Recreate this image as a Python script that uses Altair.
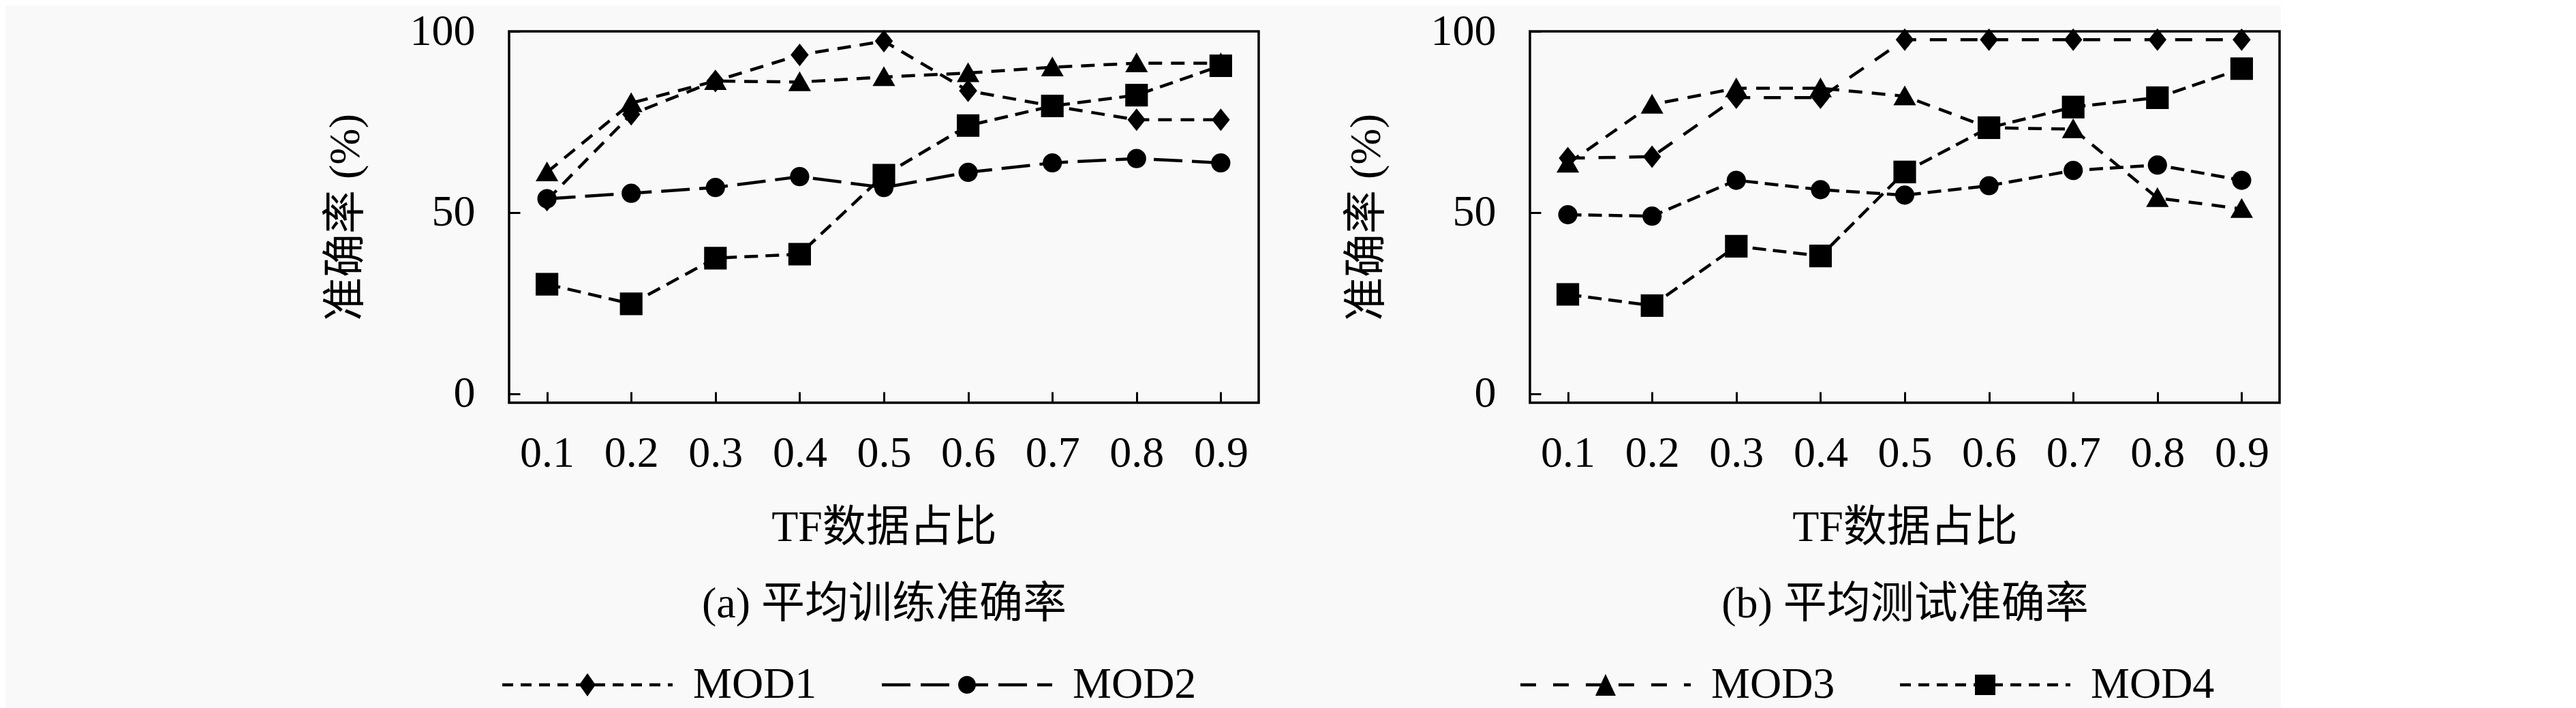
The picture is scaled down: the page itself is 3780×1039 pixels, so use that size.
import altair as alt
import pandas as pd

# ---------------- data ----------------
x_labels = ["0.1", "0.2", "0.3", "0.4", "0.5", "0.6", "0.7", "0.8", "0.9"]
models = ["MOD1", "MOD2", "MOD3", "MOD4"]

train_mod1 = [53.4, 77.1, 86.3, 93.5, 97.3, 83.6, 79.4, 75.6, 75.6]
train_mod2 = [53.8, 55.3, 56.9, 59.9, 56.9, 61.1, 63.7, 64.9, 63.7]
train_mod3 = [61.1, 80.2, 86.3, 86.0, 87.4, 88.5, 90.1, 91.2, 91.2]
train_mod4 = [30.2, 24.8, 37.4, 38.5, 60.3, 74.0, 79.4, 82.4, 90.5]

test_mod1 = [65.0, 65.4, 81.7, 81.7, 97.7, 97.7, 97.7, 97.7, 97.7]
test_mod2 = [49.4, 49.0, 58.9, 56.3, 54.8, 57.4, 61.6, 63.1, 58.9]
test_mod3 = [63.5, 79.8, 84.3, 84.3, 82.1, 73.4, 73.0, 54.0, 51.0]
test_mod4 = [27.4, 24.3, 40.7, 38.0, 61.2, 73.4, 79.1, 81.7, 89.7]

y_ticks = [0, 50, 100]
y_title = "准确率 (%)"
x_title = "TF数据占比"
caption_a = "(a) 平均训练准确率"
caption_b = "(b) 平均测试准确率"


def long_table(series):
    rows = []
    for m, vals in zip(models, series):
        for r, v in zip(x_labels, vals):
            rows.append({"ratio": r, "model": m, "acc": v})
    return pd.DataFrame(rows)


df_train = long_table([train_mod1, train_mod2, train_mod3, train_mod4])
df_test = long_table([test_mod1, test_mod2, test_mod3, test_mod4])

# ---------------- styles ----------------
FONT = "Liberation Serif, Noto Sans CJK SC"
FS = 64
BG = "#f9f9f9"

marker_paths = [
    "M0,-1L0.8,0L0,1L-0.8,0Z",                                   # diamond
    "M0.85,0A0.85,0.85 0 1,1 -0.85,0A0.85,0.85 0 1,1 0.85,0Z",   # circle
    "M0,-0.95L1,0.8L-1,0.8Z",                                    # triangle
    "M-1,-1H1V1H-1Z",                                            # square
]

SYM_W = 250.0
UNIT = SYM_W / 2.0


def dashes_path(dash, gap, thick=4.5):
    # dashes drawn as thin filled rectangles (legend symbol style)
    t = thick / 2.0 / UNIT
    parts = []
    s = -1.0
    while s < 1.0:
        e = min(s + dash / UNIT, 1.0)
        parts.append(f"M{s:.4f},{-t:.4f}H{e:.4f}V{t:.4f}H{s:.4f}Z")
        s = e + gap / UNIT
    return "".join(parts)


def legend_symbol(marker, dash, gap):
    u = 1.0 / UNIT
    if marker == "diamond":
        h, w = 17 * u, 12 * u
        mk = f"M0,{-h:.4f}L{w:.4f},0L0,{h:.4f}L{-w:.4f},0Z"
    elif marker == "circle":
        r = 13 * u
        mk = f"M{r:.4f},0A{r:.4f},{r:.4f} 0 1,1 {-r:.4f},0A{r:.4f},{r:.4f} 0 1,1 {r:.4f},0Z"
    elif marker == "triangle":
        w, h = 15 * u, 16 * u
        mk = f"M0,{-h:.4f}L{w:.4f},{h:.4f}L{-w:.4f},{h:.4f}Z"
    else:
        a = 15 * u
        mk = f"M{-a:.4f},{-a:.4f}H{a:.4f}V{a:.4f}H{-a:.4f}Z"
    return dashes_path(dash, gap) + mk


legend_a_paths = [legend_symbol("diamond", 16, 11), legend_symbol("circle", 42, 15)]
legend_b_paths = [legend_symbol("triangle", 23, 25), legend_symbol("square", 16, 11)]

dash_a = [[20, 13], [42, 14], [20, 13], [20, 11]]
dash_b = [[25, 20], [20, 10], [20, 14], [20, 10]]

W, H = 1100, 545


def panel(df, caption, dashes, leg_models, leg_paths, leg_x):
    x_axis = alt.Axis(
        title=[x_title, caption], titleLineHeight=112, titleFont=FONT, titleFontSize=FS,
        titleFontWeight="normal", titleColor="black", titlePadding=45,
        labelAngle=0, labelFont=FONT, labelFontSize=FS, labelColor="black", labelPadding=58,
        domain=False, grid=False, ticks=True, tickColor="black", tickWidth=3,
        tickSize=alt.ExprRef(expr="-16"),
    )
    y_axis = alt.Axis(
        title=y_title, titleFont=FONT, titleFontSize=FS, titleFontWeight="normal",
        titleColor="black", titlePadding=62,
        values=y_ticks, labelFont=FONT, labelFontSize=FS, labelColor="black", labelPadding=66,
        domain=False, grid=False, ticks=True, tickColor="black", tickWidth=3,
        tickSize=alt.ExprRef(expr="-16"),
    )
    base = alt.Chart(df).encode(
        x=alt.X("ratio:O", sort=x_labels,
                scale=alt.Scale(type="point", domain=x_labels, padding=0.45), axis=x_axis),
        y=alt.Y("acc:Q", scale=alt.Scale(domain=[-2.5, 100], nice=False, zero=False), axis=y_axis),
    )
    lines = base.mark_line(strokeWidth=4.5, color="black").encode(
        strokeDash=alt.StrokeDash("model:N", scale=alt.Scale(domain=models, range=dashes), legend=None),
        detail="model:N",
    )
    points = base.mark_point(filled=True, opacity=1, size=1100, color="black").encode(
        shape=alt.Shape("model:N", scale=alt.Scale(domain=models, range=marker_paths), legend=None),
    )
    leg = base.mark_point(filled=True, color="black").encode(
        shape=alt.Shape(
            "model:N",
            scale=alt.Scale(domain=leg_models, range=leg_paths),
            legend=alt.Legend(
                title=None, orient="none", legendX=leg_x, legendY=924,
                direction="horizontal", columns=2, padding=0,
                symbolSize=SYM_W * SYM_W, clipHeight=70,
                symbolStrokeWidth=0, symbolFillColor="black",
                symbolOpacity=1,
                labelFont=FONT, labelFontSize=FS, labelColor="black", labelOffset=30,
                labelLimit=0, columnPadding=95,
            ),
        )
    ).transform_filter("false")
    return alt.layer(lines, points, leg).resolve_scale(shape="independent").properties(width=W, height=H)


left = panel(df_train, caption_a, dash_a, ["MOD1", "MOD2"], legend_a_paths, -10)
right = panel(df_test, caption_b, dash_b, ["MOD3", "MOD4"], legend_b_paths, -14)

chart = (
    alt.hconcat(left, right, spacing=122)
    .resolve_scale(shape="independent", strokeDash="independent")
    .resolve_legend(shape="independent")
    .properties(padding={"left": 465, "top": 4, "right": 0, "bottom": 0}, background=BG)
    .configure_view(stroke="black", strokeWidth=3.5, fill=BG)
)

chart.save("out.html", embed_options={"renderer": "svg", "actions": False})
